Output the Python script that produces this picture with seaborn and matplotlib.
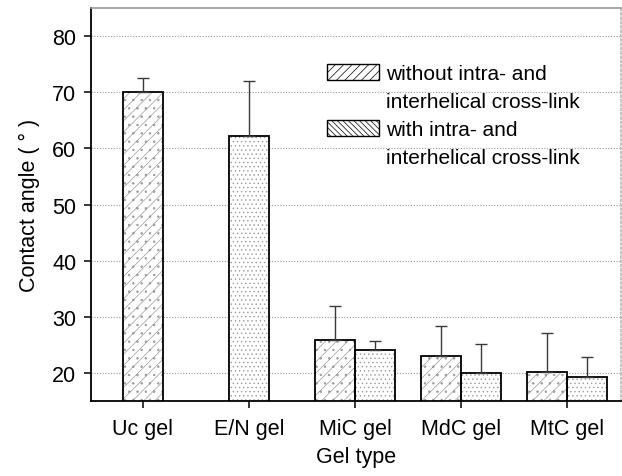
import matplotlib
matplotlib.use("Agg")
import matplotlib.pyplot as plt
from matplotlib.patches import Patch
import numpy as np
import pandas as pd
import seaborn as sns

# ---- data ----
categories = ["Uc gel", "E/N gel", "MiC gel", "MdC gel", "MtC gel"]
series_names = ["without", "with"]
without_vals = [70.0, 62.2, 25.9, 23.1, 20.2]
without_err = [2.6, 9.8, 6.1, 5.2, 6.9]
with_vals = [None, None, 24.0, 20.0, 19.2]
with_err = [None, None, 1.6, 5.2, 3.6]
legend_lines = ["without intra- and", "interhelical cross-link",
                "with intra- and", "interhelical cross-link"]
yticks = [20, 30, 40, 50, 60, 70, 80]

# single bars (only "without" data)
single = pd.DataFrame({"gel": categories[:2], "angle": without_vals[:2]})
single_err = without_err[:2]
# paired bars
pair_rows = []
pair_err = []
for name, vals, errs in [("without", without_vals, without_err), ("with", with_vals, with_err)]:
    for c, v, e in zip(categories, vals, errs):
        if c in categories[2:] and v is not None:
            pair_rows.append({"gel": c, "angle": v, "series": name})
            pair_err.append(e)
pair = pd.DataFrame(pair_rows)

sns.set_theme(style="white")
plt.rcParams["font.family"] = ["Liberation Sans", "DejaVu Sans"]
plt.rcParams["hatch.linewidth"] = 0.5
for k in ["text.color", "axes.labelcolor", "xtick.color", "ytick.color"]:
    plt.rcParams[k] = "black"

fig = plt.figure(figsize=(6.22, 4.77), dpi=100)
ax = fig.add_axes([91 / 622, 1 - 402 / 477, 530 / 622, 393 / 477])

BW = 0.38
FS = 15.5
# hatched fill layer (grey hatch)
sns.barplot(data=single, x="gel", y="angle", order=categories, width=BW,
            color="white", edgecolor="#9a9a9a", linewidth=0, errorbar=None,
            saturation=1, ax=ax, zorder=2)
sns.barplot(data=pair, x="gel", y="angle", hue="series", order=categories,
            hue_order=series_names, width=2 * BW, palette=["white", "white"],
            edgecolor="#9a9a9a", linewidth=0, errorbar=None, saturation=1,
            legend=False, ax=ax, zorder=2)
fill_patches = list(ax.patches)
hatches = ["///..", "....", "///..", "///..", "///..", "....", "....", "...."]
for p, h in zip(fill_patches, hatches):
    p.set_hatch(h)
    p.set_facecolor("white")
    p.set_edgecolor("#9a9a9a")

# outline layer
n0 = len(ax.patches)
sns.barplot(data=single, x="gel", y="angle", order=categories, width=BW,
            fill=False, color="black", edgecolor="black", linewidth=1.3,
            errorbar=None, ax=ax, zorder=3)
sns.barplot(data=pair, x="gel", y="angle", hue="series", order=categories,
            hue_order=series_names, width=2 * BW, fill=False,
            palette=["black", "black"], edgecolor="black", linewidth=1.3,
            errorbar=None, legend=False, ax=ax, zorder=3)
outline = list(ax.patches)[n0:]
for p in outline:
    p.set_edgecolor("black")
    p.set_facecolor("none")

errs = single_err + pair_err
xs = [p.get_x() + p.get_width() / 2 for p in outline]
hs = [p.get_height() for p in outline]
ax.errorbar(xs, hs, yerr=[np.zeros(len(errs)), errs], fmt="none",
            ecolor="#3a3a3a", elinewidth=1.0, capsize=4.5, capthick=1.0, zorder=4)

ax.set_xlim(-0.49, 4.51)
ax.set_ylim(15, 85)
ax.set_yticks(yticks)
ax.yaxis.grid(True, linestyle=(0, (1, 1.5)), color="#999999", linewidth=0.8)
ax.set_axisbelow(True)

for s in ["left", "bottom"]:
    ax.spines[s].set_color("black")
    ax.spines[s].set_linewidth(1.3)
ax.spines["top"].set_color("#999999")
ax.spines["top"].set_linewidth(1.2)
ax.spines["right"].set_color("#bbbbbb")
ax.spines["right"].set_linestyle((0, (1, 1.5)))

ax.tick_params(axis="y", direction="out", length=5, width=1.1, color="black",
               labelsize=FS, pad=5.5, left=True)
ax.tick_params(axis="x", direction="inout", length=10, width=1.1, color="black",
               labelsize=FS, pad=7, bottom=True)
ax.set_xlabel("Gel type", fontsize=FS, labelpad=5)
ax.set_ylabel("Contact angle ( ° )", fontsize=FS, labelpad=9)

handles = [Patch(facecolor="white", edgecolor="black", hatch="////", linewidth=1.0),
           Patch(facecolor="none", edgecolor="none"),
           Patch(facecolor="white", edgecolor="black", hatch="\\\\\\\\\\\\", linewidth=1.0),
           Patch(facecolor="none", edgecolor="none")]
ax.legend(handles, legend_lines, loc="upper left",
          bbox_to_anchor=((327 - 91) / 530, (402 - 65) / 393), frameon=False,
          fontsize=15, handlelength=2.5, handleheight=0.8, handletextpad=0.33,
          labelspacing=0.42, borderpad=0, borderaxespad=0)

fig.savefig("out.png", dpi=100)
